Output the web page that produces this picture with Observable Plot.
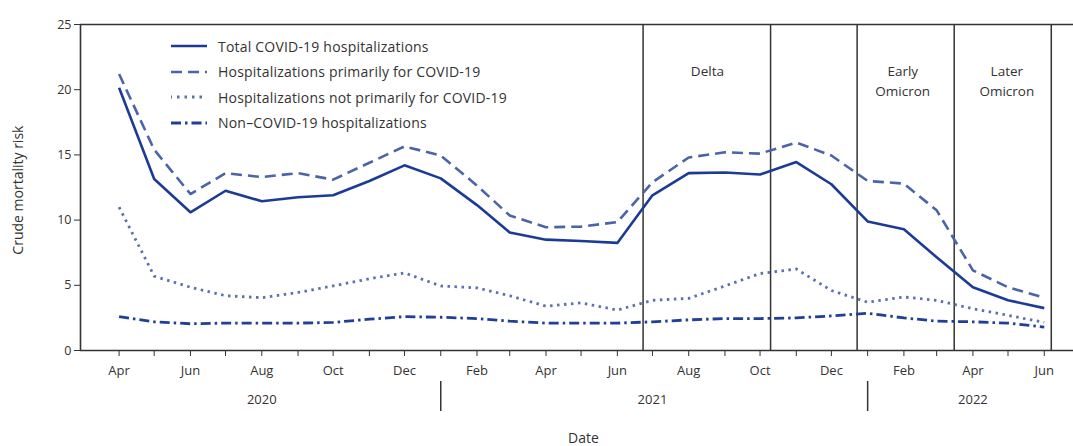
<!DOCTYPE html>
<html><head><meta charset="utf-8">
<script src="https://cdn.jsdelivr.net/npm/d3@7"></script>
<script src="https://cdn.jsdelivr.net/npm/@observablehq/plot@0.6"></script>
<style>
body{margin:0;background:#fff;}
#wrap{position:relative;width:1073px;height:446px;font-family:"Open Sans",sans-serif;}
#legend{position:absolute;left:0;top:0;}
#legend .row{position:absolute;display:flex;align-items:center;height:20px;font-size:14px;letter-spacing:0.2px;color:#333;white-space:nowrap;}
</style>
</head><body><div id="wrap"></div>
<script>
// ---- data ----
const months = ["2020-04","2020-05","2020-06","2020-07","2020-08","2020-09","2020-10","2020-11","2020-12",
  "2021-01","2021-02","2021-03","2021-04","2021-05","2021-06","2021-07","2021-08","2021-09","2021-10","2021-11","2021-12",
  "2022-01","2022-02","2022-03","2022-04","2022-05","2022-06"];
const total =      [20.15,13.15,10.6,12.25,11.45,11.75,11.9,13.0,14.2, 13.2,11.15,9.05,8.5,8.4,8.25,11.9,13.6,13.65,13.5,14.45,12.75, 9.9,9.3,7.15,4.85,3.85,3.25];
const primary =    [21.2,15.4,12.0,13.6,13.3,13.6,13.1,14.4,15.65, 14.95,12.65,10.35,9.45,9.5,9.85,12.9,14.8,15.2,15.1,15.95,14.95, 13.0,12.8,10.75,6.15,4.85,4.05];
const notPrimary = [11.0,5.7,4.85,4.2,4.05,4.45,4.95,5.5,5.95, 4.95,4.8,4.2,3.4,3.65,3.1,3.85,4.0,4.95,5.9,6.25,4.6, 3.7,4.1,3.85,3.2,2.7,2.15];
const nonCovid =   [2.6,2.2,2.05,2.1,2.1,2.1,2.15,2.4,2.6, 2.55,2.45,2.25,2.1,2.1,2.1,2.2,2.35,2.45,2.45,2.5,2.65, 2.85,2.5,2.25,2.2,2.1,1.8];
const seriesNames = ["Total COVID-19 hospitalizations","Hospitalizations primarily for COVID-19",
  "Hospitalizations not primarily for COVID-19","Non\u2013COVID-19 hospitalizations"];
const tickLabelMonths = ["2020-04","2020-06","2020-08","2020-10","2020-12","2021-02","2021-04","2021-06","2021-08","2021-10","2021-12","2022-02","2022-04","2022-06"];
const tickLabels = ["Apr","Jun","Aug","Oct","Dec","Feb","Apr","Jun","Aug","Oct","Dec","Feb","Apr","Jun"];
const yearLabels = ["2020","2021","2022"];
const yearLabelDates = ["2020-08-01","2021-07-01","2022-04-01"];
const yearSeparators = ["2021-01-01","2022-01-01"];
const periodBounds = ["2021-06-23","2021-10-10","2021-12-23","2022-03-16","2022-06-07"];
const periodLabels = ["Delta","Early\nOmicron","Later\nOmicron"];
const periodLabelDates = ["2021-08-17","2022-01-31","2022-04-30"];
const yTicks = [0,5,10,15,20,25];
const xDomain = ["2020-02-28","2022-06-26"];
const yLabel = "Crude mortality risk";
const yLabelAt = 12.3;
const xLabel = "Date";
const xLabelDate = "2021-05-03";

// ---- styles ----
const styles = [
  {stroke:"#1c3b96", strokeWidth:2.6, dash:null},
  {stroke:"#4b64a8", strokeWidth:2.6, dash:"11,6"},
  {stroke:"#5a70b0", strokeWidth:2.8, dash:"2.5,4.5"},
  {stroke:"#1f3f99", strokeWidth:2.8, dash:"10,4,2.5,4"}
];

const parseM = d3.utcParse("%Y-%m");
const parseD = d3.utcParse("%Y-%m-%d");
const dates = months.map(parseM);
const seriesVals = [total, primary, notPrimary, nonCovid];
const seriesData = seriesVals.map(vals => vals.map((v,i)=>({date:dates[i], value:v})));
const labelMap = new Map(tickLabelMonths.map((m,i)=>[+parseM(m), tickLabels[i]]));

const ink = "#333";
const plot = Plot.plot({
  width: 1073, height: 446,
  marginLeft: 80, marginRight: 0, marginTop: 24, marginBottom: 96,
  style: {fontFamily: "'Open Sans', sans-serif", fontSize: "13px", color: ink, background: "#fff"},
  x: {type: "utc", domain: xDomain.map(parseD)},
  y: {domain: [0, 25]},
  marks: [
    Plot.ruleX(periodBounds.map(parseD), {stroke: ink, strokeWidth: 1.5}),
    Plot.ruleY([0, 25], {stroke: ink, strokeWidth: 1.6}),
    Plot.ruleX([parseD(xDomain[0])], {stroke: ink, strokeWidth: 1.6}),
    Plot.axisY({ticks: yTicks, tickSize: 6, tickPadding: 3, label: null, fontSize: 12.5}),
    Plot.axisX({ticks: dates, tickSize: 6, tickPadding: 9, label: null, fontSize: 13,
      tickFormat: d => labelMap.get(+d) ?? ""}),
    Plot.text(yearLabels, {x: (d,i) => parseD(yearLabelDates[i]), text: d => d,
      frameAnchor: "bottom", dy: 53, fill: ink, fontSize: 13}),
    Plot.ruleX(yearSeparators.map(parseD), {stroke: ink, strokeWidth: 1.5, insetTop: 296, dy: 61}),
    Plot.text([xLabel], {x: parseD(xLabelDate), frameAnchor: "bottom", dy: 92, fill: ink, fontSize: 14}),
    Plot.text([yLabel], {y: yLabelAt, frameAnchor: "left", textAnchor: "middle", dx: -62, rotate: -90, fill: ink, fontSize: 14}),
    Plot.text(periodLabels, {x: (d,i) => parseD(periodLabelDates[i]), y: 22.1, text: d => d,
      lineAnchor: "top", lineHeight: 1.45, fill: ink, fontSize: 13.5}),
    ...seriesData.map((data, k) => Plot.line(data, {x: "date", y: "value",
      stroke: styles[k].stroke, strokeWidth: styles[k].strokeWidth,
      strokeDasharray: styles[k].dash, strokeLinecap: "butt", strokeLinejoin: "round"}))
  ]
});
const wrap = document.getElementById("wrap");
wrap.appendChild(plot);

// legend overlay
const legend = document.createElement("div");
legend.id = "legend";
const rowTops = [36, 61.5, 87, 112.5];
seriesNames.forEach((name, k) => {
  const row = document.createElement("div");
  row.className = "row";
  row.style.left = "170px";
  row.style.top = rowTops[k] + "px";
  const s = styles[k];
  row.innerHTML = `<svg width="48" height="20"><line x1="1" x2="37" y1="10" y2="10" stroke="${s.stroke}" stroke-width="${s.strokeWidth}" ${s.dash ? `stroke-dasharray="${k===2 ? "2.5,5" : s.dash}"` : ""} ${k===2 ? 'stroke-dashoffset="-6"' : ""}/></svg><span>${name}</span>`;
  legend.appendChild(row);
});
wrap.appendChild(legend);
</script>
</body></html>
